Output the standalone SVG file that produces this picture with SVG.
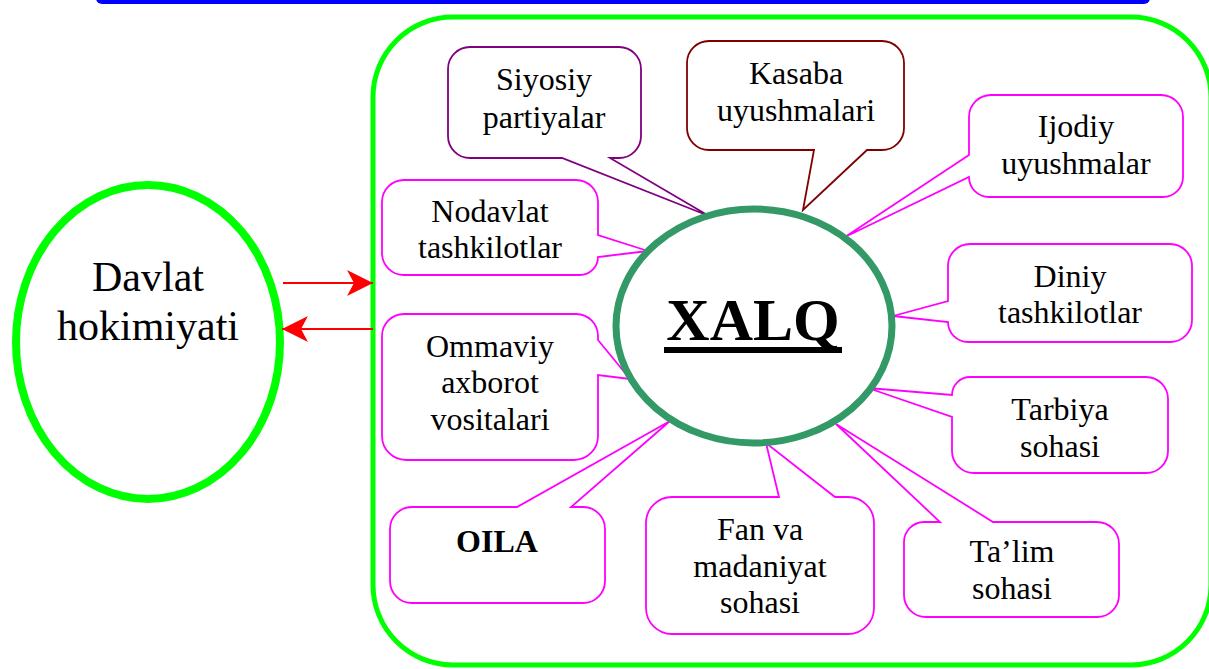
<svg xmlns="http://www.w3.org/2000/svg" width="1209" height="669" viewBox="0 0 1209 669">
<style>
  .t { font-family: "Liberation Serif", "Times New Roman", serif; font-size: 32px; fill: #000; text-anchor: middle; }
  .big { font-size: 42px; }
  .bold { font-weight: bold; }
  .x { font-size: 60px; font-weight: bold; }
  .call { fill: #fff; stroke-width: 1.8; stroke-linejoin: miter; }
  .mag { stroke: #ff00ff; }
  .pur { stroke: #800080; }
  .brn { stroke: #800000; }
  .arr { stroke: #ff0000; stroke-width: 2; fill: none; }
</style>
<defs>
  <marker id="ah" markerUnits="userSpaceOnUse" markerWidth="26" markerHeight="26" viewBox="0 0 26 26" refX="26" refY="13" orient="auto">
    <path d="M0,0 L26,13 L0,26 L7,13 Z" fill="#ff0000"/>
  </marker>
</defs>
<rect x="0" y="0" width="1209" height="669" fill="#fff"/>
<rect id="topbar" x="96" y="-20" width="1054" height="24" rx="6" fill="#0000ff"/>
<rect id="frame" x="373" y="17" width="838" height="648" rx="80" ry="80" fill="none" stroke="#00ff00" stroke-width="5"/>

<g id="davlat">
  <ellipse cx="148" cy="342" rx="132" ry="157" fill="#fff" stroke="#00ff00" stroke-width="8"/>
  <text class="t big" x="148" y="291">Davlat</text>
  <text class="t big" x="148" y="340">hokimiyati</text>
</g>

<g id="connectors">
  <line class="arr" x1="283" y1="283" x2="373" y2="283" marker-end="url(#ah)"/>
  <line class="arr" x1="373" y1="329" x2="282" y2="329" marker-end="url(#ah)"/>
</g>

<g id="siyosiy">
  <path class="call pur" d="M470,47 H619 A22 22 0 0 1 641,69 V136 A22 22 0 0 1 619,158 H610 L709,216 L562,158 H470 A22 22 0 0 1 448,136 V69 A22 22 0 0 1 470,47 Z"/>
  <text class="t" x="544" y="90">Siyosiy</text>
  <text class="t" x="544" y="128">partiyalar</text>
</g>

<g id="kasaba">
  <path class="call brn" d="M709,41 H882 A22 22 0 0 1 904,63 V128 A22 22 0 0 1 882,150 H867 L803,210 L814,150 H709 A22 22 0 0 1 687,128 V63 A22 22 0 0 1 709,41 Z"/>
  <text class="t" x="796" y="84">Kasaba</text>
  <text class="t" x="796" y="121">uyushmalari</text>
</g>

<g id="ijodiy">
  <path class="call mag" d="M991,95 H1161 A22 22 0 0 1 1183,117 V177 A20 20 0 0 1 1163,197 H989 A20 20 0 0 1 969,177 L845,237 L969,155 V117 A22 22 0 0 1 991,95 Z"/>
  <text class="t" x="1076" y="137">Ijodiy</text>
  <text class="t" x="1076" y="174">uyushmalar</text>
</g>

<g id="diniy">
  <path class="call mag" d="M970,244 H1170 A22 22 0 0 1 1192,266 V320 A22 22 0 0 1 1170,342 H968 A20 20 0 0 1 948,322 L893,316 L948,301 V266 A22 22 0 0 1 970,244 Z"/>
  <text class="t" x="1070" y="287">Diniy</text>
  <text class="t" x="1070" y="323">tashkilotlar</text>
</g>

<g id="nodavlat">
  <path class="call mag" d="M404,180 H576 A22 22 0 0 1 598,202 V235 L648,251 L598,257 A18 18 0 0 1 580,275 H404 A22 22 0 0 1 382,253 V202 A22 22 0 0 1 404,180 Z"/>
  <text class="t" x="490" y="222">Nodavlat</text>
  <text class="t" x="490" y="258">tashkilotlar</text>
</g>

<g id="ommaviy">
  <path class="call mag" d="M404,314 H576 A22 22 0 0 1 598,336 V340 L630,379 L598,375 V436 A24 24 0 0 1 574,460 H406 A24 24 0 0 1 382,436 V336 A22 22 0 0 1 404,314 Z"/>
  <text class="t" x="490" y="357">Ommaviy</text>
  <text class="t" x="490" y="393">axborot</text>
  <text class="t" x="490" y="430">vositalari</text>
</g>

<g id="tarbiya">
  <path class="call mag" d="M970,377 H1146 A22 22 0 0 1 1168,399 V451 A22 22 0 0 1 1146,473 H974 A22 22 0 0 1 952,451 V417 L868,388 L952,395 A18 18 0 0 1 970,377 Z"/>
  <text class="t" x="1060" y="420">Tarbiya</text>
  <text class="t" x="1060" y="457">sohasi</text>
</g>

<g id="oila">
  <path class="call mag" d="M412,507 H517 L670,421 L571,507 H583 A22 22 0 0 1 605,529 V581 A22 22 0 0 1 583,603 H412 A22 22 0 0 1 390,581 V529 A22 22 0 0 1 412,507 Z"/>
  <text class="t bold" x="497" y="552">OILA</text>
</g>

<g id="fan">
  <path class="call mag" d="M672,497 H779 L766,443 L835,497 H848 A26 26 0 0 1 874,523 V608 A26 26 0 0 1 848,634 H672 A26 26 0 0 1 646,608 V523 A26 26 0 0 1 672,497 Z"/>
  <text class="t" x="760" y="540">Fan va</text>
  <text class="t" x="760" y="577">madaniyat</text>
  <text class="t" x="760" y="613">sohasi</text>
</g>

<g id="talim">
  <path class="call mag" d="M924,522 H940 L836,424 L993,522 H1097 A22 22 0 0 1 1119,544 V595 A22 22 0 0 1 1097,617 H926 A22 22 0 0 1 904,595 V542 A20 20 0 0 1 924,522 Z"/>
  <text class="t" x="1012" y="562">Ta’lim</text>
  <text class="t" x="1012" y="599">sohasi</text>
</g>

<g id="xalq">
  <ellipse cx="754" cy="326" rx="138" ry="117" fill="#fff" stroke="#339966" stroke-width="7"/>
  <text class="t x" x="753" y="340">XALQ</text>
  <rect x="664" y="347" width="178" height="6" fill="#000"/>
</g>
</svg>
